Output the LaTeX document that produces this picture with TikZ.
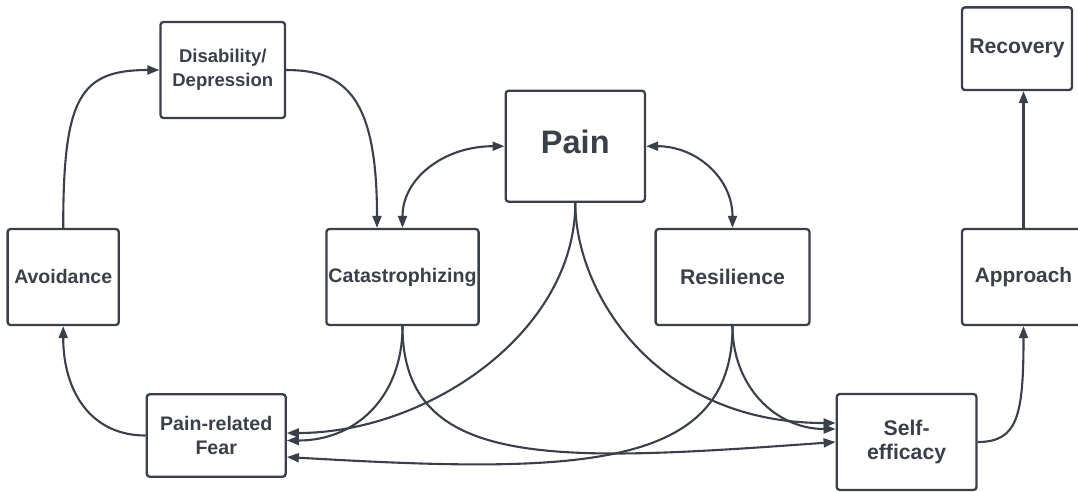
\documentclass[tikz,border=0pt]{standalone}
\usepackage{fontspec}
\setmainfont{Liberation Sans}
\usetikzlibrary{arrows.meta,calc}
\definecolor{ink}{HTML}{3B3F47}
\newcommand{\labelsize}[1]{\fontsize{#1}{24}\selectfont\bfseries}
\begin{document}
\begin{tikzpicture}[x=1pt,y=-1pt,
  box/.style={draw=ink, line width=2.3pt, rounded corners=3pt, fill=white,
    inner sep=0pt, align=center, text=ink, font=\labelsize{19.5}},
  link/.style={draw=ink, line width=2.1pt, -{Triangle[length=12pt,width=9pt]}},
  twoway/.style={draw=ink, line width=2.1pt,
    {Triangle[length=12pt,width=9pt]}-{Triangle[length=12pt,width=9pt]}}]
  \useasboundingbox (0,0) rectangle (1078,491);
  \clip (0,0) rectangle (1078,491);

  % boxes
  \node[box, minimum width=124.5pt, minimum height=96pt, font=\labelsize{18.5}] (dis) at (222.75,70) {Disability/\\Depression};
  \node[box, minimum width=139.3pt, minimum height=111pt, text depth=9pt,
        font=\fontsize{32.5}{38}\selectfont\bfseries] (pain) at (575.3,146.2) {Pain};
  \node[box, minimum width=110pt, minimum height=82.7pt, font=\labelsize{21.2}] (rec) at (1017,48.7) {Recovery};
  \node[box, minimum width=111.2pt, minimum height=96pt] (avo) at (63.2,277) {Avoidance};
  \node[box, minimum width=152.2pt, minimum height=96pt, font=\labelsize{19.6}] (cat) at (402.5,277) {Catastrophizing};
  \node[box, minimum width=153.8pt, minimum height=96pt, font=\labelsize{21.2}] (res) at (732.5,277) {Resilience};
  \node[box, minimum width=123pt, minimum height=96pt, font=\labelsize{20.8}] (app) at (1023.5,277) {Approach};
  \node[box, minimum width=139pt, minimum height=82.4pt, font=\labelsize{19.6}] (fear) at (216.2,435.5) {Pain-related\\Fear};
  \node[box, minimum width=139.7pt, minimum height=96pt, font=\labelsize{21.2}] (se) at (906.6,442) {Self-\\efficacy};

  % avoidance loop
  \draw[link] (avo.north) .. controls +(0,-130) and +(-80,0) .. (dis.west);
  \draw[link] (dis.east) .. controls +(60,0) and +(0,-130) .. ($(cat.north)+(-25.5,0)$);
  \draw[link] (fear.west) .. controls +(-55,0) and +(0,65) .. (avo.south);

  % pain links
  \draw[twoway] (pain.west) .. controls +(-60,0) and +(0,-50) .. (cat.north);
  \draw[twoway] (pain.east) .. controls +(50,0) and +(0,-50) .. (res.north);

  % into pain-related fear
  \draw[link] (pain.south) .. controls +(0,130) and +(140,0) .. ($(fear.east)+(0,-2.5)$);
  \draw[link] (cat.south) .. controls +(0,70) and +(70,0) .. ($(fear.east)+(0,5)$);
  \draw[link] (res.south) .. controls +(0,145) and +(290,17) .. ($(fear.east)+(0,21.5)$);

  % into self-efficacy
  \draw[link] (pain.south) .. controls +(0,90) and +(-180,0) .. ($(se.west)+(0,-19)$);
  \draw[link] (res.south) .. controls +(0,60) and +(-60,0) .. ($(se.west)+(0,-13)$);
  \draw[link] (cat.south) .. controls +(0,145) and +(-277,20) .. (se.west);

  % recovery path
  \draw[link] (se.east) .. controls +(40,0) and +(0,90) .. (app.south);
  \draw[link] (app.north) -- (app.north |- rec.south);
\end{tikzpicture}
\end{document}
